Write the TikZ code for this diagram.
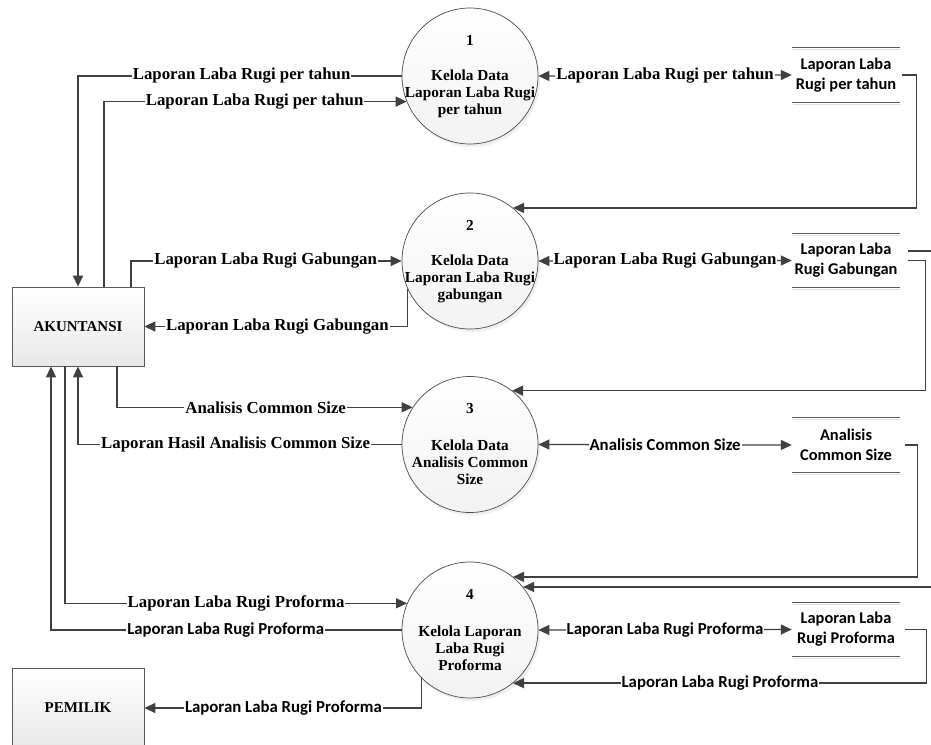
\documentclass[tikz,border=0pt]{standalone}
\usepackage{fontspec}
\setmainfont{Liberation Serif}
\newfontfamily\sansb{Carlito}
\usetikzlibrary{arrows.meta,shadows,calc}
\tikzset{
  proc/.style={circle, draw=black!70, line width=0.7pt, minimum size=136pt, inner sep=0pt,
    top color=white, bottom color=black!5,
    drop shadow={shadow xshift=2pt, shadow yshift=-3pt, fill=black!12}},
  ext/.style={rectangle, draw=black!65, line width=0.8pt, minimum width=132pt, minimum height=79pt,
    top color=white, bottom color=black!9, font=\bfseries\fontsize{15}{17}\selectfont},
  store/.style={minimum width=108pt, minimum height=54pt, inner sep=0pt, align=center,
    font=\sansb\bfseries\fontsize{16.4}{20}\selectfont},
  storeline/.style={draw=black!65, line width=1.3pt},
  storeshadow/.style={draw=black!12, line width=1.3pt},
  tip/.tip={Triangle[length=11pt,width=10pt]},
  flow/.style={draw=black!75, line width=1.3pt, -tip},
  bi/.style={draw=black!75, line width=1.3pt, tip-tip},
  lbl/.style={fill=white, inner sep=1pt, font=\bfseries\fontsize{16.8}{19}\selectfont},
  slbl/.style={fill=white, inner sep=1pt, font=\sansb\bfseries\fontsize{16.8}{19}\selectfont},
  ptext/.style={align=center, inner sep=0pt, font=\bfseries\fontsize{15.3}{17}\selectfont},
}
\begin{document}
\begin{tikzpicture}[x=1pt,y=-1pt]
\useasboundingbox (0,0) rectangle (931,744);
\clip (0,0) rectangle (931,744);
\fill[white] (0,0) rectangle (931,744);

% processes
\node[proc] (c1) at (470,76) {};
\node[proc] (c2) at (470,261) {};
\node[proc] (c3) at (470,444.5) {};
\node[proc] (c4) at (470,630) {};
\node[ptext] (n1) at ($(c1)+(0,-36)$) {1};
\node[ptext] (n2) at ($(c2)+(0,-36)$) {2};
\node[ptext] (n3) at ($(c3)+(0,-36)$) {3};
\node[ptext] (n4) at ($(c4)+(0,-36)$) {4};
\node[ptext] (t1) at ($(c1)+(0,18)$) {Kelola Data\\Laporan Laba Rugi\\per tahun};
\node[ptext] (t2) at ($(c2)+(0,18)$) {Kelola Data\\Laporan Laba Rugi\\gabungan};
\node[ptext] (t3) at ($(c3)+(0,18)$) {Kelola Data\\Analisis Common\\Size};
\node[ptext] (t4) at ($(c4)+(0,18)$) {Kelola Laporan\\Laba Rugi\\Proforma};

% externals
\node[ext] (ak) at (78,326.5) {AKUNTANSI};
\node[ext] (pm) at (78,708) {PEMILIK};

% data stores
\node[store] (s1) at (846,75) {Laporan Laba\\Rugi per tahun};
\node[store] (s2) at (846,260.5) {Laporan Laba\\Rugi Gabungan};
\node[store] (s3) at (846,445) {Analisis\\Common Size};
\node[store] (s4) at (846,629.5) {Laporan Laba\\Rugi Proforma};
\foreach \s in {s1,s2,s3,s4}{
  \draw[storeshadow] ($(\s.north west)+(1,2)$) -- ($(\s.north east)+(1,2)$);
  \draw[storeshadow] ($(\s.south west)+(1,2)$) -- ($(\s.south east)+(1,2)$);
  \draw[storeline] (\s.north west) -- (\s.north east);
  \draw[storeline] (\s.south west) -- (\s.south east);
}

% anchor points on externals
\coordinate (akB) at ($(ak.north)+(26,0)$);
\coordinate (akC) at ($(ak.north)+(53,0)$);
\coordinate (akE) at ($(ak.south)+(39,0)$);
\coordinate (akG) at ($(ak.south)+(-13,0)$);
\coordinate (akH) at ($(ak.south)+(-27,0)$);
\coordinate (s2o) at ($(s2.east)+(8,-9.5)$);

% left flows
\draw[flow] (c1.west) -| (ak.north);
\node[lbl] (lA) at ($(c1.west)+(-160,0)$) {Laporan Laba Rugi per tahun};
\draw[flow] (akB) |- (c1.202);
\node[lbl] (lB) at ($(c1.202)+(-152,0)$) {Laporan Laba Rugi per tahun};
\draw[flow] (akC) |- (c2.west);
\node[lbl] (lC) at ($(c2.west)+(-136,0)$) {Laporan Laba Rugi Gabungan};
\draw[flow] (c2.204) |- (ak.east);
\node[lbl] (lD) at ($(ak.east)+(133,0)$) {Laporan Laba Rugi Gabungan};
\draw[flow] (akE) |- (c3.147);
\node[lbl] (lE) at ($(c3.147)+(-147,0)$) {Analisis Common Size};
\draw[flow] (c3.west) -| (ak.south);
\node[lbl] (lF) at ($(c3.west)+(-166,0)$) {Laporan Hasil Analisis Common Size};
\draw[flow] (akG) |- (c4.157);
\node[lbl] (lG) at ($(c4.157)+(-171,0)$) {Laporan Laba Rugi Proforma};
\draw[flow] (c4.west) -| (akH);
\node[slbl] (lH) at ($(c4.west)+(-176,0)$) {Laporan Laba Rugi Proforma};
\draw[flow] (c4.south west) |- (pm.east);
\node[slbl] (lI) at ($(pm.east)+(139,0)$) {Laporan Laba Rugi Proforma};

% process <-> store
\draw[bi] (c1.east) -- (s1.west) node[lbl, midway] (m1) {Laporan Laba Rugi per tahun};
\draw[bi] (c2.east) -- (s2.west) node[lbl, midway] (m2) {Laporan Laba Rugi Gabungan};
\draw[bi] (c3.east) -- (s3.west) node[slbl, midway] (m3) {Analisis Common Size};
\draw[bi] (c4.east) -- (s4.west) node[slbl, midway] (m4) {Laporan Laba Rugi Proforma};

% store -> next process
\draw[flow, shorten <=2pt] (s1.east) -- ++(16,0) |- (c2.51);
\draw[flow, shorten <=8pt] (s2.east) -- ++(25,0) |- (c3.52);
\draw[flow] (s2o) -- ++(40,0) |- (c4.39);
\draw[flow, shorten <=5pt] (s3.east) -- ++(17,0) |- (c4.51);
\draw[flow, shorten <=5pt] (s4.east) -- ++(26,0) |- (c4.-51);
\node[slbl] (lR) at ($(c4.-51)+(207,0)$) {Laporan Laba Rugi Proforma};
\end{tikzpicture}
\end{document}
